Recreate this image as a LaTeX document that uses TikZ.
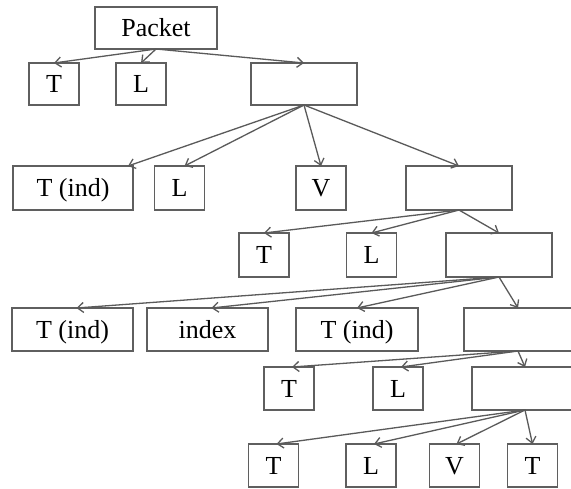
\documentclass[tikz,border=0pt]{standalone}
\usepackage{fontspec}
\setmainfont{Liberation Serif}
\usetikzlibrary{arrows.meta}
\definecolor{edgegray}{RGB}{90,90,90}
\definecolor{boxgray}{RGB}{95,95,95}
\tikzset{
  box/.style={draw=boxgray, line width=1.4pt, inner sep=0pt, outer sep=0pt,
    minimum height=43pt, text height=17.5pt, text depth=0pt,
    font=\fontsize{26pt}{28pt}\selectfont},
  sbox/.style={box, minimum width=50pt},
  mbox/.style={box, minimum width=106pt},
  wbox/.style={box, minimum width=121pt},
  link/.style={draw=edgegray, line width=1.3pt, -{Straight Barb[length=6pt,width=10pt]}}
}
\begin{document}
\begin{tikzpicture}[x=1pt,y=-1pt]
\path[use as bounding box, fill=white] (0,0) rectangle (571,488);
% row 0
\node[box, minimum width=122pt, minimum height=42pt] (pk) at (156,28) {Packet};
% row 1
\node[sbox, minimum height=42pt] (t1) at (54,84) {T};
\node[sbox, minimum height=42pt] (l1) at (141,84) {L};
\node[mbox, minimum height=42pt] (e1) at (304,84) {};
% row 2
\node[wbox, minimum height=44pt, minimum width=120pt] (ti2) at (73,188) {T (ind)};
\node[sbox, minimum height=44pt] (l2) at (179.5,188) {L};
\node[sbox, minimum height=44pt] (v2) at (321,188) {V};
\node[mbox, minimum height=44pt] (e2) at (459,188) {};
% row 3
\node[sbox, minimum height=44pt] (t3) at (264,255) {T};
\node[sbox, minimum height=44pt] (l3) at (371.5,255) {L};
\node[mbox, minimum height=44pt] (e3) at (499,255) {};
% row 4
\node[wbox] (ti4) at (72.5,329.5) {T (ind)};
\node[wbox] (ix4) at (207.5,329.5) {index};
\node[wbox, minimum width=122pt] (tj4) at (357,329.5) {T (ind)};
\node[mbox, minimum width=108pt] (e4) at (518,329.5) {};
% row 5
\node[sbox] (t5) at (289,388.5) {T};
\node[sbox] (l5) at (398,388.5) {L};
\node[mbox] (e5) at (525,388.5) {};
% row 6
\node[sbox] (t6) at (273.5,465.5) {T};
\node[sbox] (l6) at (371,465.5) {L};
\node[sbox] (v6) at (454.5,465.5) {V};
\node[sbox] (u6) at (532.5,465.5) {T};
% connectors
\draw[link] (pk.south) -- (t1.north);
\draw[link] (pk.south) -- (l1.north);
\draw[link] (pk.south) -- (e1.north);
\draw[link] (e1.south) -- ([xshift=55pt]ti2.north);
\draw[link] (e1.south) -- ([xshift=5pt]l2.north);
\draw[link] (e1.south) -- (v2.north);
\draw[link] (e1.south) -- (e2.north);
\draw[link] (e2.south) -- (t3.north);
\draw[link] (e2.south) -- (l3.north);
\draw[link] (e2.south) -- (e3.north);
\draw[link] (e3.south) -- ([xshift=4pt]ti4.north);
\draw[link] (e3.south) -- ([xshift=4pt]ix4.north);
\draw[link] (e3.south) -- (tj4.north);
\draw[link] (e3.south) -- (e4.north);
\draw[link] (e4.south) -- ([xshift=3pt]t5.north);
\draw[link] (e4.south) -- ([xshift=3pt]l5.north);
\draw[link] (e4.south) -- (e5.north);
\draw[link] (e5.south) -- ([xshift=3pt]t6.north);
\draw[link] (e5.south) -- ([xshift=3pt]l6.north);
\draw[link] (e5.south) -- ([xshift=2pt]v6.north);
\draw[link] (e5.south) -- (u6.north);
\end{tikzpicture}
\end{document}
